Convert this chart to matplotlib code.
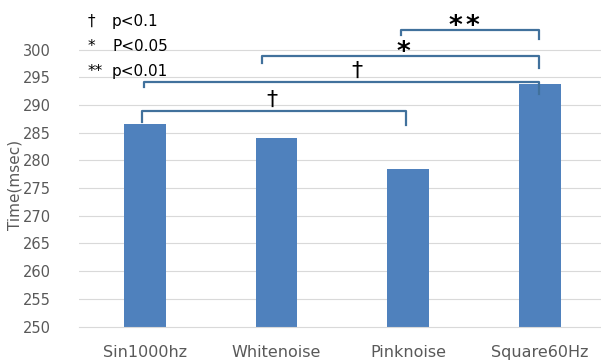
import matplotlib.pyplot as plt

# dados
categorias = ["Sin1000hz", "Whitenoise", "Pinknoise", "Square60Hz"]
tempos = [286.6, 284.1, 278.5, 293.7]

# comparações: x esquerdo, x direito, altura, fim perna esq., fim perna dir.
brk_x0 = [-0.02, -0.01, 0.888, 1.942]
brk_x1 = [1.98, 2.99, 2.99, 2.99]
brk_h = [288.9, 294.2, 298.9, 303.6]
brk_pe = [287.0, 293.3, 297.5, 302.6]
brk_pd = [286.3, 292.0, 296.7, 301.9]
brk_simb = ["†", "†", "*", "**"]
brk_xs = [0.964, 1.607, 1.96, 2.42]

legenda_simb = ["†", "*", "**"]
legenda_txt = ["p<0.1", "P<0.05", "p<0.01"]

cor_barra = "#4F81BD"
cor_linha = "#41719C"
cinza = "#595959"

fig = plt.figure(figsize=(6.01, 3.6), dpi=100)
ax = fig.add_axes([0.1314, 0.093, 0.8686, 0.8463])

x = list(range(len(categorias)))
ax.bar(x, tempos, width=0.317, color=cor_barra, zorder=2)

ax.set_ylim(250, 305)
ax.set_yticks(range(250, 301, 5))
ax.set_xlim(-0.5, 3.462)
ax.set_xticks(x)
ax.set_xticklabels(categorias, fontsize=11.5, color=cinza)
ax.tick_params(axis="x", length=0, pad=13)
ax.tick_params(axis="y", length=0, labelsize=10.5, labelcolor=cinza, pad=20)
fig.text(15 / 601, 1 - 185 / 360, "Time(msec)", fontsize=11, color=cinza,
         rotation=90, ha="center", va="center")

for s in ["top", "right", "left"]:
    ax.spines[s].set_visible(False)
ax.spines["bottom"].set_color("#D9D9D9")
for v in range(255, 301, 5):
    ax.axhline(v, color="#D9D9D9", linewidth=0.8, zorder=0)

# colchetes de significância
for k in range(len(brk_h)):
    ax.plot([brk_x0[k], brk_x0[k], brk_x1[k], brk_x1[k]],
            [brk_pe[k], brk_h[k], brk_h[k], brk_pd[k]],
            color=cor_linha, linewidth=1.6, zorder=3, clip_on=False)
    simb = brk_simb[k]
    if simb == "†":
        ax.text(brk_xs[k], brk_h[k] + 0.2, simb, ha="center", va="bottom",
                fontsize=16, color="black", zorder=4)
    else:
        # cada asterisco desenhado à parte (espaçamento do original)
        n = len(simb)
        for m in range(n):
            xx = brk_xs[k] + (m - (n - 1) / 2) * 0.125
            ax.text(xx, brk_h[k] - 0.8, "*", ha="center", va="baseline",
                    fontsize=19, color="black", zorder=4, fontweight="bold")

# legenda dos símbolos
for k in range(len(legenda_simb)):
    yy = 1 - (21.5 + 25 * k) / 360
    fig.text(88 / 601, yy, legenda_simb[k], fontsize=11, va="center", ha="left")
    fig.text(112 / 601, yy, legenda_txt[k], fontsize=11, va="center", ha="left")

plt.savefig("out.png", dpi=100)
